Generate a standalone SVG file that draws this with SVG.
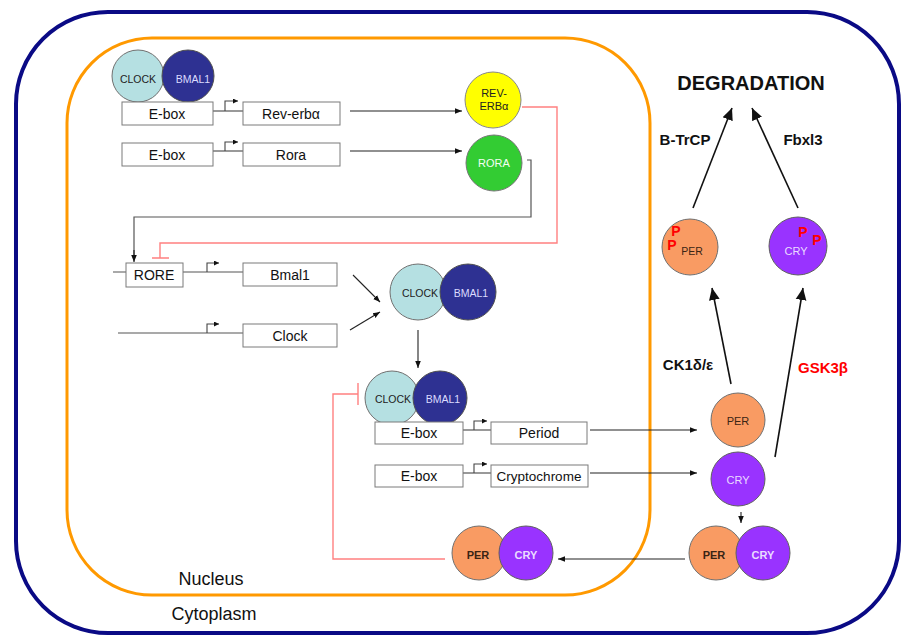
<svg xmlns="http://www.w3.org/2000/svg" width="904" height="637" viewBox="0 0 904 637">
<defs>
<marker id="a" viewBox="0 0 10 10" refX="10" refY="5" markerWidth="7" markerHeight="7" markerUnits="userSpaceOnUse" orient="auto"><path d="M0,1 L10,5 L0,9z" fill="#111"/></marker>
<marker id="ap" viewBox="0 0 10 10" refX="10" refY="5" markerWidth="5" markerHeight="5" markerUnits="userSpaceOnUse" orient="auto"><path d="M0,0 L10,5 L0,10z" fill="#111"/></marker>
<marker id="ab" viewBox="0 0 10 10" refX="10" refY="5" markerWidth="12" markerHeight="12" markerUnits="userSpaceOnUse" orient="auto"><path d="M0,0.5 L10,5 L0,9.5z" fill="#111"/></marker>
</defs>
<style>
text{font-family:"Liberation Sans",Arial,sans-serif;text-anchor:middle}
.box{fill:#fff;stroke:#7a7a7a;stroke-width:1}
.bl{font-size:14px;fill:#111}
.ln{fill:none;stroke:#555;stroke-width:1.2}
.ar{fill:none;stroke:#222;stroke-width:1.1;marker-end:url(#a)}
.pr{fill:none;stroke:#444;stroke-width:1.1;marker-end:url(#ap)}
.big{fill:none;stroke:#111;stroke-width:1.6;marker-end:url(#ab)}
.red{fill:none;stroke:#ff8080;stroke-width:1.4}
.clock{fill:#b5e0e2;stroke:#707070;stroke-width:1}
.bmal{fill:#2e3192;stroke:#505050;stroke-width:1}
.per{fill:#f99b63;stroke:#707070;stroke-width:1}
.cry{fill:#9933ff;stroke:#606060;stroke-width:1}
.ct{font-size:10.5px;fill:#222}
.bt{font-size:10.5px;fill:#dcdcff}
.pt{font-size:11px;fill:#3a2414;font-weight:bold}
.yt{font-size:11px;fill:#eadcff;font-weight:bold}
.p{font-size:14px;fill:#ff0000;font-weight:bold}
.lab{font-size:15px;font-weight:bold;fill:#111}
</style>

<g id="cell">
<rect x="16" y="12" width="883" height="621" rx="92" ry="92" fill="#fff" stroke="#0a0a85" stroke-width="4"/>
</g>
<g id="nucleus">
<rect x="67" y="38" width="583" height="557" rx="85" ry="85" fill="none" stroke="#ff9900" stroke-width="3"/>
<text x="211" y="585" style="font-size:18px;fill:#111">Nucleus</text>
</g>
<g id="cytoplasm"><text x="214" y="620" style="font-size:18px;fill:#111">Cytoplasm</text></g>

<g id="connectors">
<path class="ln" d="M213,111 H243"/>
<path class="pr" d="M225,111 V101 H238"/>
<path class="ln" d="M213,151 H243"/>
<path class="pr" d="M225,151 V142 H238"/>
<path class="ar" d="M350,111 H462"/>
<path class="ar" d="M350,151 H462"/>
<path class="ln" d="M527,160 H531 V217 H134 V255"/>
<path class="ar" d="M134,250 V262"/>
<path class="red" d="M522,107 H557 V243 H160 V258 M152,258 H169"/>
<path class="ln" d="M113,272 H126 M183,272 H243"/>
<path class="pr" d="M207,272 V263 H219"/>
<path class="ln" d="M118,333 H243"/>
<path class="pr" d="M207,333 V324 H219"/>
<path class="ar" d="M353,275 L380,302"/>
<path class="ar" d="M350,330 L380,312"/>
<path class="ar" d="M418,330 V368"/>
<path class="red" d="M445,559 H333 V394 H358 M358,383 V405"/>
<path class="ln" d="M463,430 H491"/>
<path class="pr" d="M474,430 V421 H487"/>
<path class="ln" d="M463,473 H491"/>
<path class="pr" d="M474,473 V464 H487"/>
<path class="ar" d="M590,430 H697"/>
<path class="ar" d="M590,473 H697"/>
<path class="big" d="M731,384 L712,288"/>
<path class="big" d="M775,457 L803,288"/>
<path class="big" d="M693,208 L732,108"/>
<path class="big" d="M798,208 L752,108"/>
<path class="ar" d="M741,512 V523"/>
<path class="ar" d="M685,559 H558"/>
</g>

<g id="clockbmal1-top">
<circle class="clock" cx="138" cy="76" r="26"/>
<text class="ct" x="138" y="83">CLOCK</text>
<circle class="bmal" cx="188" cy="76" r="26"/>
<text class="bt" x="193" y="83">BMAL1</text>
</g>
<g id="ebox1"><rect class="box" x="122" y="102" width="91" height="23"/><text class="bl" x="167" y="119">E-box</text></g>
<g id="reverba-gene"><rect class="box" x="243" y="102" width="97" height="23"/><text class="bl" x="291" y="119">Rev-erbα</text></g>
<g id="ebox2"><rect class="box" x="122" y="143" width="91" height="23"/><text class="bl" x="167" y="160">E-box</text></g>
<g id="rora-gene"><rect class="box" x="243" y="143" width="97" height="23"/><text class="bl" x="291" y="160">Rora</text></g>
<g id="reverb-protein">
<circle cx="493" cy="100" r="28" fill="#ffff00" stroke="#888"/>
<text x="494" y="97" style="font-size:11px;fill:#222">REV-</text>
<text x="494" y="110" style="font-size:11px;fill:#222">ERBα</text>
</g>
<g id="rora-protein">
<circle cx="494" cy="163" r="28" fill="#33cc33" stroke="#777"/>
<text x="494" y="167" style="font-size:11px;fill:#f4fff4">RORA</text>
</g>
<g id="rore"><rect class="box" x="126" y="263" width="57" height="24"/><text class="bl" x="154" y="280">RORE</text></g>
<g id="bmal1-gene"><rect class="box" x="243" y="263" width="94" height="23"/><text class="bl" x="290" y="280">Bmal1</text></g>
<g id="clock-gene"><rect class="box" x="243" y="324" width="94" height="23"/><text class="bl" x="290" y="341">Clock</text></g>
<g id="clockbmal1-mid">
<circle class="clock" cx="418" cy="292" r="28"/>
<text class="ct" x="420" y="297">CLOCK</text>
<circle class="bmal" cx="468" cy="292" r="28"/>
<text class="bt" x="471" y="297">BMAL1</text>
</g>
<g id="clockbmal1-low">
<circle class="clock" cx="392" cy="398" r="27"/>
<text class="ct" x="393" y="403">CLOCK</text>
<circle class="bmal" cx="440" cy="398" r="27"/>
<text class="bt" x="443" y="403">BMAL1</text>
</g>
<g id="ebox3"><rect class="box" x="375" y="422" width="88" height="22"/><text class="bl" x="419" y="438">E-box</text></g>
<g id="period-gene"><rect class="box" x="491" y="422" width="96" height="22"/><text class="bl" x="539" y="438">Period</text></g>
<g id="ebox4"><rect class="box" x="375" y="465" width="88" height="22"/><text class="bl" x="419" y="481">E-box</text></g>
<g id="cry-gene"><rect class="box" x="491" y="465" width="97" height="22"/><text class="bl" x="539" y="481" style="font-size:13.5px">Cryptochrome</text></g>

<g id="per-right"><circle class="per" cx="738" cy="420" r="27"/><text x="738" y="425" style="font-size:11px;fill:#3a2414">PER</text></g>
<g id="cry-right"><circle class="cry" cx="738" cy="479" r="27"/><text x="738" y="484" style="font-size:11px;fill:#eadcff">CRY</text></g>
<g id="percry-cyto">
<circle class="per" cx="716" cy="553" r="27"/><text class="pt" x="714" y="559">PER</text>
<circle class="cry" cx="763" cy="553" r="27"/><text class="yt" x="763" y="559">CRY</text>
</g>
<g id="percry-nuc">
<circle class="per" cx="479" cy="553" r="27"/><text class="pt" x="478" y="559">PER</text>
<circle class="cry" cx="526" cy="553" r="27"/><text class="yt" x="526" y="559">CRY</text>
</g>
<g id="per-p">
<circle class="per" cx="690" cy="247" r="28"/>
<text x="692" y="255" style="font-size:10.5px;fill:#3a2414">PER</text>
<text class="p" x="676" y="236">P</text>
<text class="p" x="672" y="250">P</text>
</g>
<g id="cry-p">
<circle class="cry" cx="798" cy="246" r="29"/>
<text x="796" y="255" style="font-size:11px;fill:#eadcff">CRY</text>
<text class="p" x="803" y="237">P</text>
<text class="p" x="817" y="245">P</text>
</g>
<g id="labels">
<text x="751" y="90" style="font-size:20px;font-weight:bold;fill:#111">DEGRADATION</text>
<text class="lab" x="685" y="145">B-TrCP</text>
<text class="lab" x="803" y="145">Fbxl3</text>
<text class="lab" x="688" y="370">CK1δ/ε</text>
<text class="lab" x="823" y="373" style="fill:#ff0000">GSK3β</text>
</g>
</svg>
